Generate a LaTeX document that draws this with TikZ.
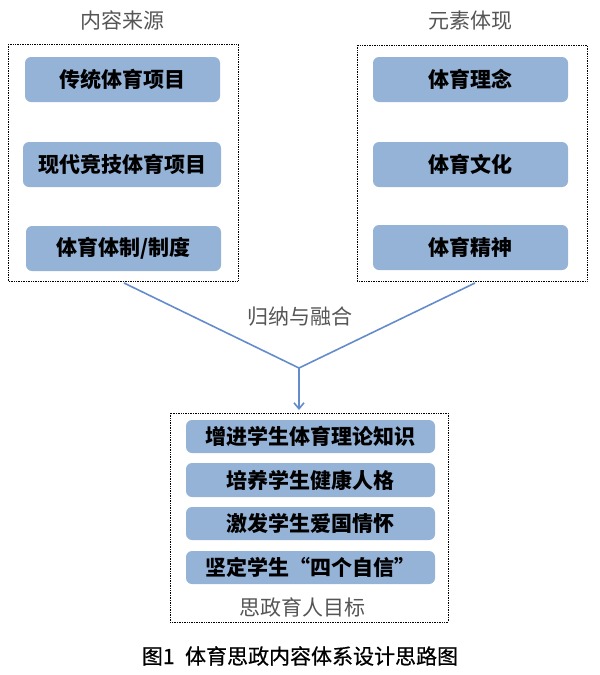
\documentclass[tikz,border=0pt]{standalone}
\usepackage{fontspec}
\setmainfont{Noto Sans CJK SC}
\newfontfamily\capfont[FakeBold=0.6]{Noto Sans CJK SC}
\usetikzlibrary{arrows.meta}
\definecolor{boxfill}{RGB}{149,179,215}
\definecolor{linecol}{RGB}{100,140,205}
\definecolor{titlegray}{RGB}{85,85,85}
\begin{document}
\begin{tikzpicture}[x=1pt,y=-1pt,
  itembox/.style={draw=none,fill=boxfill,rounded corners=6pt,inner sep=0pt,
    font=\fontsize{21}{24}\selectfont\bfseries,text=black},
  frame/.style={draw=black,densely dotted,line width=0.7pt},
  ttl/.style={font=\fontsize{21}{24}\selectfont,text=titlegray},
  conn/.style={draw=linecol,line width=1.6pt}]
\useasboundingbox (0,0) rectangle (600,675);
% frames
\draw[frame] (8,44) rectangle (238,281);
\draw[frame] (357,45) rectangle (587,281);
\draw[frame] (170,413) rectangle (448,622);
% titles
\node[ttl] (t1) at (122,20) {内容来源};
\node[ttl] (t2) at (470,21) {元素体现};
% left boxes
\node[itembox,minimum width=195pt,minimum height=45pt] (l1) at (122.5,79.5) {传统体育项目};
\node[itembox,minimum width=198pt,minimum height=45pt] (l2) at (122,164.5) {现代竞技体育项目};
\node[itembox,minimum width=195pt,minimum height=45pt] (l3) at (123.5,248.5) {体育体制/制度};
% right boxes
\node[itembox,minimum width=195pt,minimum height=45pt] (r1) at (470.5,79.5) {体育理念};
\node[itembox,minimum width=195pt,minimum height=45pt] (r2) at (470.5,164.5) {体育文化};
\node[itembox,minimum width=195pt,minimum height=45pt] (r3) at (470.5,247.5) {体育精神};
% connectors
\coordinate (ls) at (124,283);
\coordinate (rs) at (475,283);
\coordinate (v) at (299,368);
\coordinate (ae) at (299,410);
\draw[conn] (ls) -- (v) -- (rs);
\draw[conn,-{Straight Barb[length=6pt,width=10pt]}] (v) -- (ae);
\node[ttl] (lab) at (300,317) {归纳与融合};
% bottom boxes
\node[itembox,minimum width=249pt,minimum height=33pt] (b1) at (310.5,436.5) {增进学生体育理论知识};
\node[itembox,minimum width=249pt,minimum height=34pt] (b2) at (310.5,480) {培养学生健康人格};
\node[itembox,minimum width=249pt,minimum height=33pt] (b3) at (310.5,523.5) {激发学生爱国情怀};
\node[itembox,minimum width=249pt,minimum height=33pt] (b4) at (310.5,567.5) {坚定学生“四个自信”};
\node[ttl] (t3) at (302,607) {思政育人目标};
% caption
\node[font=\fontsize{21}{24}\selectfont\capfont,text=black] (cap) at (300,656) {图1\hspace{0.5em}体育思政内容体系设计思路图};
\end{tikzpicture}
\end{document}
